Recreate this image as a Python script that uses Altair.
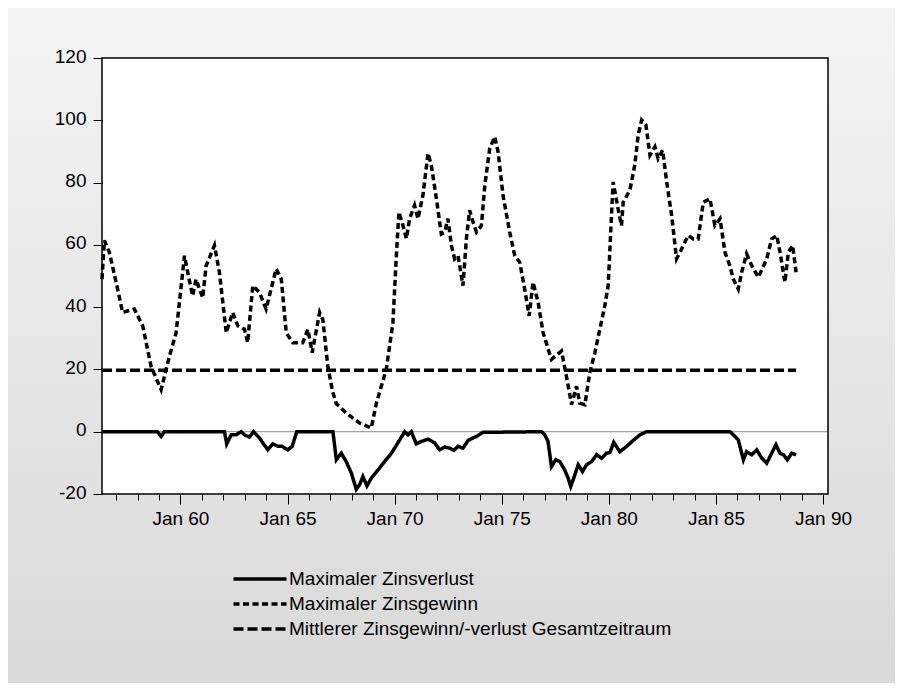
import altair as alt
import pandas as pd

# ---- data ----
gewinn_x = [1956.34, 1956.45, 1956.68, 1957.07, 1957.30, 1957.85, 1958.24, 1958.63, 1959.10, 1959.49,
            1959.80, 1960.19, 1960.34, 1960.57, 1960.73, 1961.04, 1961.20, 1961.59, 1961.82, 1962.14,
            1962.44, 1962.68, 1962.99, 1963.14, 1963.38, 1963.69, 1964.00, 1964.47, 1964.71, 1964.94,
            1965.25, 1965.71, 1965.95, 1966.15, 1966.50, 1966.65, 1966.88, 1967.10, 1967.28, 1967.74,
            1968.36, 1968.91, 1969.15, 1969.61, 1969.92, 1970.08, 1970.20, 1970.39, 1970.55, 1970.70,
            1970.93, 1971.09, 1971.32, 1971.56, 1971.71, 1971.95, 1972.18, 1972.34, 1972.49, 1972.65,
            1972.80, 1972.96, 1973.19, 1973.35, 1973.50, 1973.66, 1973.82, 1974.05, 1974.21, 1974.44,
            1974.67, 1974.83, 1975.06, 1975.37, 1975.61, 1975.84, 1976.07, 1976.28, 1976.46, 1976.70,
            1976.93, 1977.32, 1977.79, 1978.02, 1978.26, 1978.49, 1978.64, 1978.88, 1979.11, 1979.35,
            1979.58, 1979.81, 1979.97, 1980.13, 1980.20, 1980.43, 1980.59, 1980.67, 1980.98, 1981.21,
            1981.37, 1981.53, 1981.73, 1981.92, 1982.15, 1982.30, 1982.51, 1982.70, 1982.93, 1983.16,
            1983.32, 1983.55, 1983.71, 1983.94, 1984.17, 1984.41, 1984.72, 1984.95, 1985.19, 1985.42,
            1985.65, 1985.81, 1986.04, 1986.20, 1986.43, 1986.67, 1986.98, 1987.37, 1987.60, 1987.84,
            1987.99, 1988.22, 1988.38, 1988.58, 1988.74]
gewinn_y = [49.0, 61.4, 57.7, 45.8, 38.3, 39.4, 34.0, 21.0, 13.5, 24.3,
            31.8, 56.5, 51.2, 43.6, 49.0, 43.0, 53.3, 59.8, 51.2, 31.8,
            38.3, 34.0, 32.9, 28.6, 46.9, 44.7, 39.4, 52.3, 49.0, 31.8,
            28.6, 28.6, 32.9, 25.4, 38.3, 36.0, 21.0, 13.0, 9.0, 6.0,
            2.8, 1.2, 9.2, 20.0, 35.0, 56.5, 70.5, 66.2, 62.0, 68.4,
            72.7, 68.4, 75.9, 89.4, 85.6, 74.8, 63.5, 64.1, 68.4, 59.8,
            55.5, 56.5, 46.9, 62.0, 71.1, 67.3, 64.1, 66.2, 79.1, 91.0,
            94.7, 89.9, 75.9, 64.1, 56.5, 54.4, 45.8, 37.2, 48.0, 41.5,
            31.8, 23.2, 25.9, 17.8, 8.7, 14.6, 9.2, 8.7, 19.0, 25.4,
            32.9, 40.4, 46.9, 70.5, 80.2, 71.6, 66.2, 73.7, 77.5, 85.6,
            95.3, 100.1, 98.5, 88.8, 91.5, 87.7, 90.4, 80.2, 69.5, 55.5,
            57.6, 60.9, 63.0, 61.9, 61.9, 73.7, 74.8, 66.2, 68.4, 57.6,
            53.3, 49.0, 45.8, 51.2, 57.1, 53.3, 49.6, 55.5, 61.9, 63.0,
            57.6, 48.0, 57.6, 59.8, 51.2]

verlust_x = [1956.34, 1958.93, 1959.10, 1959.25, 1962.06, 1962.16, 1962.37, 1962.60, 1962.84, 1962.99,
             1963.22, 1963.41, 1963.69, 1963.88, 1964.08, 1964.31, 1964.55, 1964.75, 1965.01, 1965.22,
             1965.43, 1967.12, 1967.28, 1967.51, 1967.74, 1967.98, 1968.21, 1968.36, 1968.52, 1968.71,
             1968.91, 1969.22, 1969.53, 1969.85, 1970.15, 1970.47, 1970.62, 1970.78, 1971.01, 1971.25,
             1971.56, 1971.87, 1972.10, 1972.34, 1972.57, 1972.76, 1972.96, 1973.19, 1973.43, 1973.66,
             1973.82, 1974.13, 1976.86, 1977.01, 1977.16, 1977.32, 1977.52, 1977.71, 1977.94, 1978.10,
             1978.22, 1978.36, 1978.57, 1978.77, 1978.96, 1979.19, 1979.43, 1979.66, 1979.89, 1980.05,
             1980.23, 1980.51, 1980.83, 1981.14, 1981.45, 1981.76, 1985.65, 1985.81, 1986.04, 1986.28,
             1986.43, 1986.67, 1986.90, 1987.14, 1987.37, 1987.60, 1987.80, 1987.99, 1988.15, 1988.33,
             1988.54, 1988.74]
verlust_y = [0.0, 0.0, -1.5, 0.0, 0.0, -3.9, -1.0, -1.0, 0.0, -1.0,
             -1.7, 0.0, -2.0, -3.9, -5.8, -3.9, -4.7, -4.7, -5.8, -4.7,
             0.0, 0.0, -9.0, -6.9, -9.6, -13.3, -18.5, -17.1, -14.4, -17.4,
             -14.9, -12.3, -9.6, -6.9, -3.6, 0.0, -1.0, 0.0, -3.9, -3.1,
             -2.4, -3.6, -5.8, -4.9, -5.3, -6.0, -4.7, -5.3, -2.8, -2.0,
             -1.5, -0.2, 0.0, -1.0, -3.1, -11.2, -9.0, -9.6, -12.3, -14.9,
             -17.6, -14.9, -10.6, -12.8, -10.6, -9.6, -7.4, -8.5, -6.9, -6.7,
             -3.4, -6.4, -4.7, -2.8, -1.0, 0.0, 0.0, -1.0, -2.6, -9.0,
             -6.4, -7.4, -5.8, -8.5, -10.1, -6.9, -4.2, -6.9, -7.4, -9.0,
             -6.9, -7.4]

mittel_x = [1956.34, 1988.74]
mittel_y = [19.7, 19.7]

series_names = ["Maximaler Zinsverlust", "Maximaler Zinsgewinn",
                "Mittlerer Zinsgewinn/-verlust Gesamtzeitraum"]
y_ticks = [-20, 0, 20, 40, 60, 80, 100, 120]
x_ticks = list(range(1957, 1991))

frames = []
for name, xs, ys in zip(series_names, [verlust_x, gewinn_x, mittel_x], [verlust_y, gewinn_y, mittel_y]):
    frames.append(pd.DataFrame({"Jahr": xs, "Wert": ys, "Reihe": name, "idx": range(len(xs))}))
df = pd.concat(frames, ignore_index=True)

W, H = 726, 436
PAD_L, PAD_T, PAD_R, PAD_B = 94, 50, 67, 189
FONT = "Liberation Sans"

x_scale = alt.Scale(domain=[1956.34, 1990.23], nice=False, zero=False)
y_scale = alt.Scale(domain=[-20, 120], nice=False)

one = pd.DataFrame({"k": [0]})

# panel background (vertical grey gradient) and white plot area
panel = alt.Chart(one).mark_rect(
    fill=alt.LinearGradient(gradient="linear", x1=0, x2=0, y1=0, y2=1,
                            stops=[alt.GradientStop(offset=0, color="#f4f4f4"),
                                   alt.GradientStop(offset=1, color="#d9d9d9")])
).encode(x=alt.value(-PAD_L), x2=alt.value(W + PAD_R),
         y=alt.value(-PAD_T), y2=alt.value(H + PAD_B))

plotbg = alt.Chart(one).mark_rect(fill="white").encode(
    x=alt.value(0), x2=alt.value(W), y=alt.value(0), y2=alt.value(H))

frame = alt.Chart(one).mark_rect(fillOpacity=0, stroke="black", strokeWidth=1.5).encode(
    x=alt.value(0), x2=alt.value(W), y=alt.value(0), y2=alt.value(H))

zero = alt.Chart(pd.DataFrame({"y": [0]})).mark_rule(color="#8a8a8a", strokeWidth=1).encode(
    y=alt.Y("y:Q", scale=y_scale)
)

lines = alt.Chart(df).mark_line(strokeWidth=3.5, color="black", strokeCap="butt").encode(
    x=alt.X("Jahr:Q", scale=x_scale, title=None,
            axis=alt.Axis(values=x_ticks, grid=False, domain=False, zindex=2,
                          labelExpr="datum.value % 5 == 0 ? 'Jan ' + substring(toString(datum.value), 2) : ''",
                          tickSize={"condition": {"test": "datum.value % 5 == 0", "value": 10}, "value": 6},
                          tickColor="black", tickWidth=1, labelPadding=5,
                          labelFontSize=19, labelFont=FONT, labelColor="black")),
    y=alt.Y("Wert:Q", scale=y_scale, title=None,
            axis=alt.Axis(values=y_ticks, grid=False, domain=False, tickSize=9, zindex=2,
                          labelExpr="toString(datum.value)", labelOffset=-2,
                          tickColor="black", tickWidth=1, labelPadding=7,
                          labelFontSize=19, labelFont=FONT, labelColor="black")),
    strokeDash=alt.StrokeDash("Reihe:N",
                              scale=alt.Scale(domain=series_names, range=[[1, 0], [6, 3.5], [10, 4]]),
                              legend=alt.Legend(title=None, orient="none", legendX=146, legendY=509,
                                                symbolType="M-2.65,0H2.65", symbolSize=400,
                                                symbolStrokeWidth=3.5, symbolStrokeColor="black",
                                                symbolFillColor="transparent",
                                                labelFontSize=19, labelFont=FONT, labelColor="black",
                                                labelLimit=0, labelOffset=17, rowPadding=3,
                                                zindex=2)),
    order="idx:Q",
)

chart = alt.layer(panel, plotbg, zero, lines, frame).properties(
    width=W, height=H,
    padding={"left": PAD_L, "top": PAD_T, "right": PAD_R, "bottom": PAD_B},
    autosize=alt.AutoSizeParams(type="none"),
    background="white",
).configure_view(
    stroke=None
)

chart.save("out.html", embed_options={"renderer": "svg", "actions": False})
